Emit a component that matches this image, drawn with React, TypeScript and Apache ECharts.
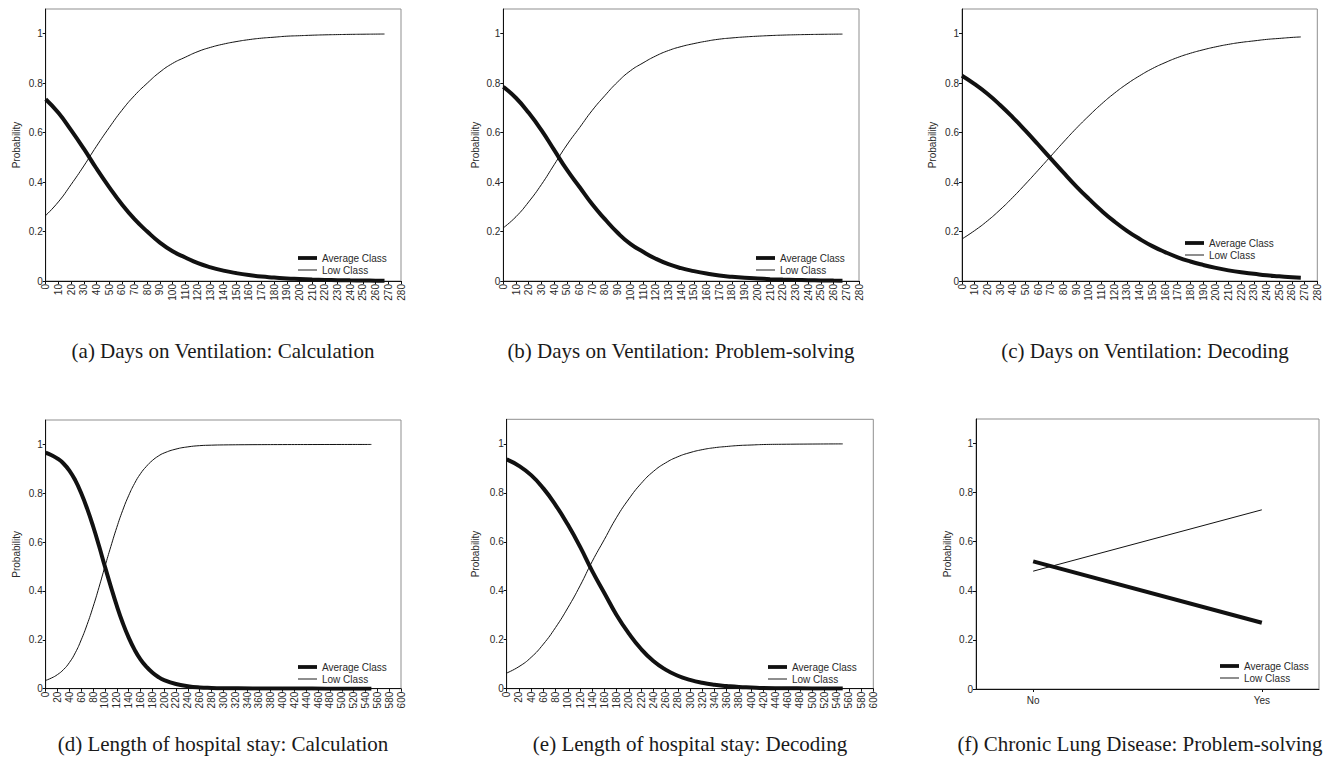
import React, { useEffect, useRef } from "react";
import * as echarts from "echarts";

// ---- data ----
const ventDays = [0, 10, 20, 30, 40, 50, 60, 70, 80, 90, 100, 110, 120, 130, 140, 150, 160, 170, 180, 190, 200, 210, 220, 230, 240, 250, 260, 267];
const aAvg = [0.735, 0.68, 0.61, 0.535, 0.455, 0.38, 0.31, 0.25, 0.2, 0.155, 0.12, 0.095, 0.072, 0.055, 0.042, 0.032, 0.024, 0.018, 0.014, 0.01, 0.008, 0.006, 0.0045, 0.0035, 0.0026, 0.002, 0.0015, 0.0012];
const aLow = [0.265, 0.32, 0.39, 0.465, 0.545, 0.62, 0.69, 0.75, 0.8, 0.845, 0.88, 0.905, 0.928, 0.945, 0.958, 0.968, 0.976, 0.982, 0.986, 0.99, 0.992, 0.994, 0.9955, 0.9965, 0.9974, 0.998, 0.9985, 0.9988];
const bAvg = [0.785, 0.74, 0.68, 0.61, 0.53, 0.45, 0.38, 0.31, 0.25, 0.195, 0.15, 0.118, 0.09, 0.068, 0.052, 0.04, 0.03, 0.022, 0.017, 0.013, 0.01, 0.0075, 0.0056, 0.0042, 0.0032, 0.0024, 0.0018, 0.0015];
const bLow = [0.215, 0.26, 0.32, 0.39, 0.47, 0.55, 0.62, 0.69, 0.75, 0.805, 0.85, 0.882, 0.91, 0.932, 0.948, 0.96, 0.97, 0.978, 0.983, 0.987, 0.99, 0.9925, 0.9944, 0.9958, 0.9968, 0.9976, 0.9982, 0.9985];
const cAvg = [0.83, 0.796, 0.757, 0.712, 0.662, 0.608, 0.552, 0.495, 0.438, 0.383, 0.332, 0.284, 0.241, 0.203, 0.17, 0.141, 0.117, 0.096, 0.079, 0.065, 0.053, 0.043, 0.035, 0.029, 0.023, 0.019, 0.015, 0.013];
const cLow = [0.17, 0.204, 0.243, 0.288, 0.338, 0.392, 0.448, 0.505, 0.562, 0.617, 0.668, 0.716, 0.759, 0.797, 0.83, 0.859, 0.883, 0.904, 0.921, 0.935, 0.947, 0.957, 0.965, 0.971, 0.977, 0.981, 0.985, 0.987];

const dDays = [0, 10, 20, 30, 40, 50, 60, 70, 80, 90, 100, 110, 120, 130, 140, 150, 160, 170, 180, 190, 200, 220, 240, 260, 280, 300, 350, 400, 450, 500, 550];
const dAvg = [0.966, 0.956, 0.942, 0.922, 0.893, 0.853, 0.8, 0.737, 0.665, 0.585, 0.5, 0.418, 0.34, 0.27, 0.21, 0.16, 0.12, 0.09, 0.066, 0.048, 0.035, 0.019, 0.01, 0.005, 0.003, 0.002, 0.001, 0.0006, 0.0004, 0.0002, 0.0001];
const dLow = [0.034, 0.044, 0.058, 0.078, 0.107, 0.147, 0.2, 0.263, 0.335, 0.415, 0.5, 0.582, 0.66, 0.73, 0.79, 0.84, 0.88, 0.91, 0.934, 0.952, 0.965, 0.981, 0.99, 0.995, 0.997, 0.998, 0.999, 0.9994, 0.9996, 0.9998, 0.9999];

const eDays = [0, 20, 40, 60, 80, 100, 120, 140, 160, 180, 200, 220, 240, 260, 280, 300, 320, 340, 360, 380, 400, 420, 450, 500, 550];
const eAvg = [0.936, 0.91, 0.872, 0.818, 0.75, 0.67, 0.58, 0.48, 0.39, 0.3, 0.225, 0.162, 0.113, 0.078, 0.053, 0.036, 0.024, 0.016, 0.011, 0.007, 0.005, 0.003, 0.002, 0.001, 0.0004];
const eLow = [0.064, 0.09, 0.128, 0.182, 0.25, 0.33, 0.42, 0.52, 0.61, 0.7, 0.775, 0.838, 0.887, 0.922, 0.947, 0.964, 0.976, 0.984, 0.989, 0.993, 0.995, 0.997, 0.998, 0.999, 0.9996];

const fX = [0, 1];
const fLabels = ["No", "Yes"];
const fAvg = [0.52, 0.27];
const fLow = [0.48, 0.73];

const yTicks = [0, 0.2, 0.4, 0.6, 0.8, 1];
const seriesNames = ["Average Class", "Low Class"];
const captions = [
  "(a) Days on Ventilation: Calculation",
  "(b) Days on Ventilation: Problem-solving",
  "(c) Days on Ventilation: Decoding",
  "(d) Length of hospital stay: Calculation",
  "(e) Length of hospital stay: Decoding",
  "(f) Chronic Lung Disease: Problem-solving",
];

// ---- layout ----
const grids = [
  { left: 45.7, top: 9, width: 355.3, height: 272 },
  { left: 503.3, top: 9, width: 355.7, height: 272 },
  { left: 962, top: 9, width: 355.3, height: 272 },
  { left: 45.7, top: 420, width: 355.3, height: 268.7 },
  { left: 506.7, top: 419.3, width: 366.6, height: 269.4 },
  { left: 976, top: 419, width: 343, height: 270 },
];
const legendPos = [
  { left: 298, top: 253 },
  { left: 756, top: 253 },
  { left: 1185, top: 238 },
  { left: 298, top: 662 },
  { left: 768, top: 662 },
  { left: 1220, top: 661 },
];
const captionPos = [
  { x: 223, y: 351 },
  { x: 681, y: 351 },
  { x: 1145, y: 351 },
  { x: 223, y: 744 },
  { x: 690, y: 744 },
  { x: 1140, y: 744 },
];
const nameGaps = [24, 23, 25, 24, 26, 24];

const SANS = "'Liberation Sans', Arial, sans-serif";
const SERIF = "'Liberation Serif', 'Times New Roman', serif";
const INK = "#111";
const AXIS_TEXT = "#2a2a2a";

function pairs(xs: number[], ys: number[]) {
  return xs.map((x, i) => [x, ys[i]]);
}

export default function App() {
  const ref = useRef<HTMLDivElement>(null);
  useEffect(() => {
    if (!ref.current) return;
    const chart = echarts.init(ref.current, null, { renderer: "svg" });

    const panelData = [
      { xs: ventDays, avg: aAvg, low: aLow },
      { xs: ventDays, avg: bAvg, low: bLow },
      { xs: ventDays, avg: cAvg, low: cLow },
      { xs: dDays, avg: dAvg, low: dLow },
      { xs: eDays, avg: eAvg, low: eLow },
      { xs: fX, avg: fAvg, low: fLow },
    ];

    const xAxes = grids.map((_, i) => {
      const base: any = {
        type: "value",
        gridIndex: i,
        splitLine: { show: false },
        axisLine: { show: true, onZero: false, lineStyle: { color: INK, width: 1 } },
        axisTick: { show: true, length: 3, lineStyle: { color: INK } },
        axisLabel: { fontFamily: SANS, fontSize: 10, color: AXIS_TEXT, margin: 3, rotate: 90 },
      };
      if (i < 3) {
        base.min = 0;
        base.max = 280;
        base.interval = 10;
      } else if (i < 5) {
        base.min = 0;
        base.max = 600;
        base.interval = 20;
      } else {
        base.min = -0.25;
        base.max = 1.25;
        base.axisTick = { show: true, length: 3, lineStyle: { color: INK }, customValues: fX };
        base.axisLabel = {
          fontFamily: SANS,
          fontSize: 10,
          color: AXIS_TEXT,
          margin: 6,
          customValues: fX,
          formatter: (v: number) => {
            const k = fX.indexOf(v);
            return k >= 0 ? fLabels[k] : "";
          },
        };
      }
      return base;
    });

    const yAxes = grids.map((_, i) => ({
      type: "value",
      gridIndex: i,
      min: 0,
      max: 1.1,
      name: "Probability",
      nameLocation: "middle",
      nameGap: nameGaps[i],
      nameTextStyle: { fontFamily: SANS, fontSize: 10, color: AXIS_TEXT },
      splitLine: { show: false },
      axisLine: { show: true, onZero: false, lineStyle: { color: INK, width: 1 } },
      axisTick: { show: true, length: 3, lineStyle: { color: INK }, customValues: yTicks },
      axisLabel: { fontFamily: SANS, fontSize: 10, color: AXIS_TEXT, margin: 3, customValues: yTicks },
    }));

    const series: any[] = [];
    panelData.forEach((p, i) => {
      series.push({
        type: "line",
        name: seriesNames[0],
        xAxisIndex: i,
        yAxisIndex: i,
        data: pairs(p.xs, p.avg),
        showSymbol: false,
        symbol: "none",
        smooth: i < 5 ? 0.5 : false,
        color: INK,
        lineStyle: { width: 4, color: INK },
        z: 2,
      });
      series.push({
        type: "line",
        name: seriesNames[1],
        xAxisIndex: i,
        yAxisIndex: i,
        data: pairs(p.xs, p.low),
        showSymbol: false,
        symbol: "none",
        smooth: i < 5 ? 0.5 : false,
        color: INK,
        lineStyle: { width: 1, color: INK },
        z: 3,
      });
    });

    const legends = legendPos.map((pos) => ({
      left: pos.left,
      top: pos.top,
      orient: "vertical",
      padding: 0,
      itemWidth: 19,
      itemHeight: 10,
      itemGap: 2,
      selectedMode: false,
      itemStyle: { borderWidth: 0 },
      textStyle: { fontFamily: SANS, fontSize: 10, color: AXIS_TEXT, lineHeight: 10, padding: [0, 0, 0, 0] },
      data: [
        { name: seriesNames[0], icon: "path://M0,0L20,0L20,4L0,4Z" },
        { name: seriesNames[1], icon: "path://M0,0L20,0L20,1L0,1Z" },
      ],
    }));

    const graphic = captions.map((t, i) => ({
      type: "text",
      x: captionPos[i].x,
      y: captionPos[i].y,
      style: {
        text: t,
        fontFamily: SERIF,
        fontSize: 21,
        fill: "#1a1a1a",
        align: "center",
        verticalAlign: "middle",
      },
    }));

    chart.setOption({
      animation: false,
      backgroundColor: "#ffffff",
      grid: grids.map((g) => ({ ...g, show: true, borderColor: "#8f8f8f", borderWidth: 1, backgroundColor: "transparent" })),
      xAxis: xAxes,
      yAxis: yAxes,
      legend: legends,
      series,
      graphic,
    });

    return () => chart.dispose();
  }, []);

  return (
    <div
      ref={ref}
      style={{ position: "fixed", left: 0, top: 0, width: 1343, height: 776, background: "#fff" }}
    />
  );
}
